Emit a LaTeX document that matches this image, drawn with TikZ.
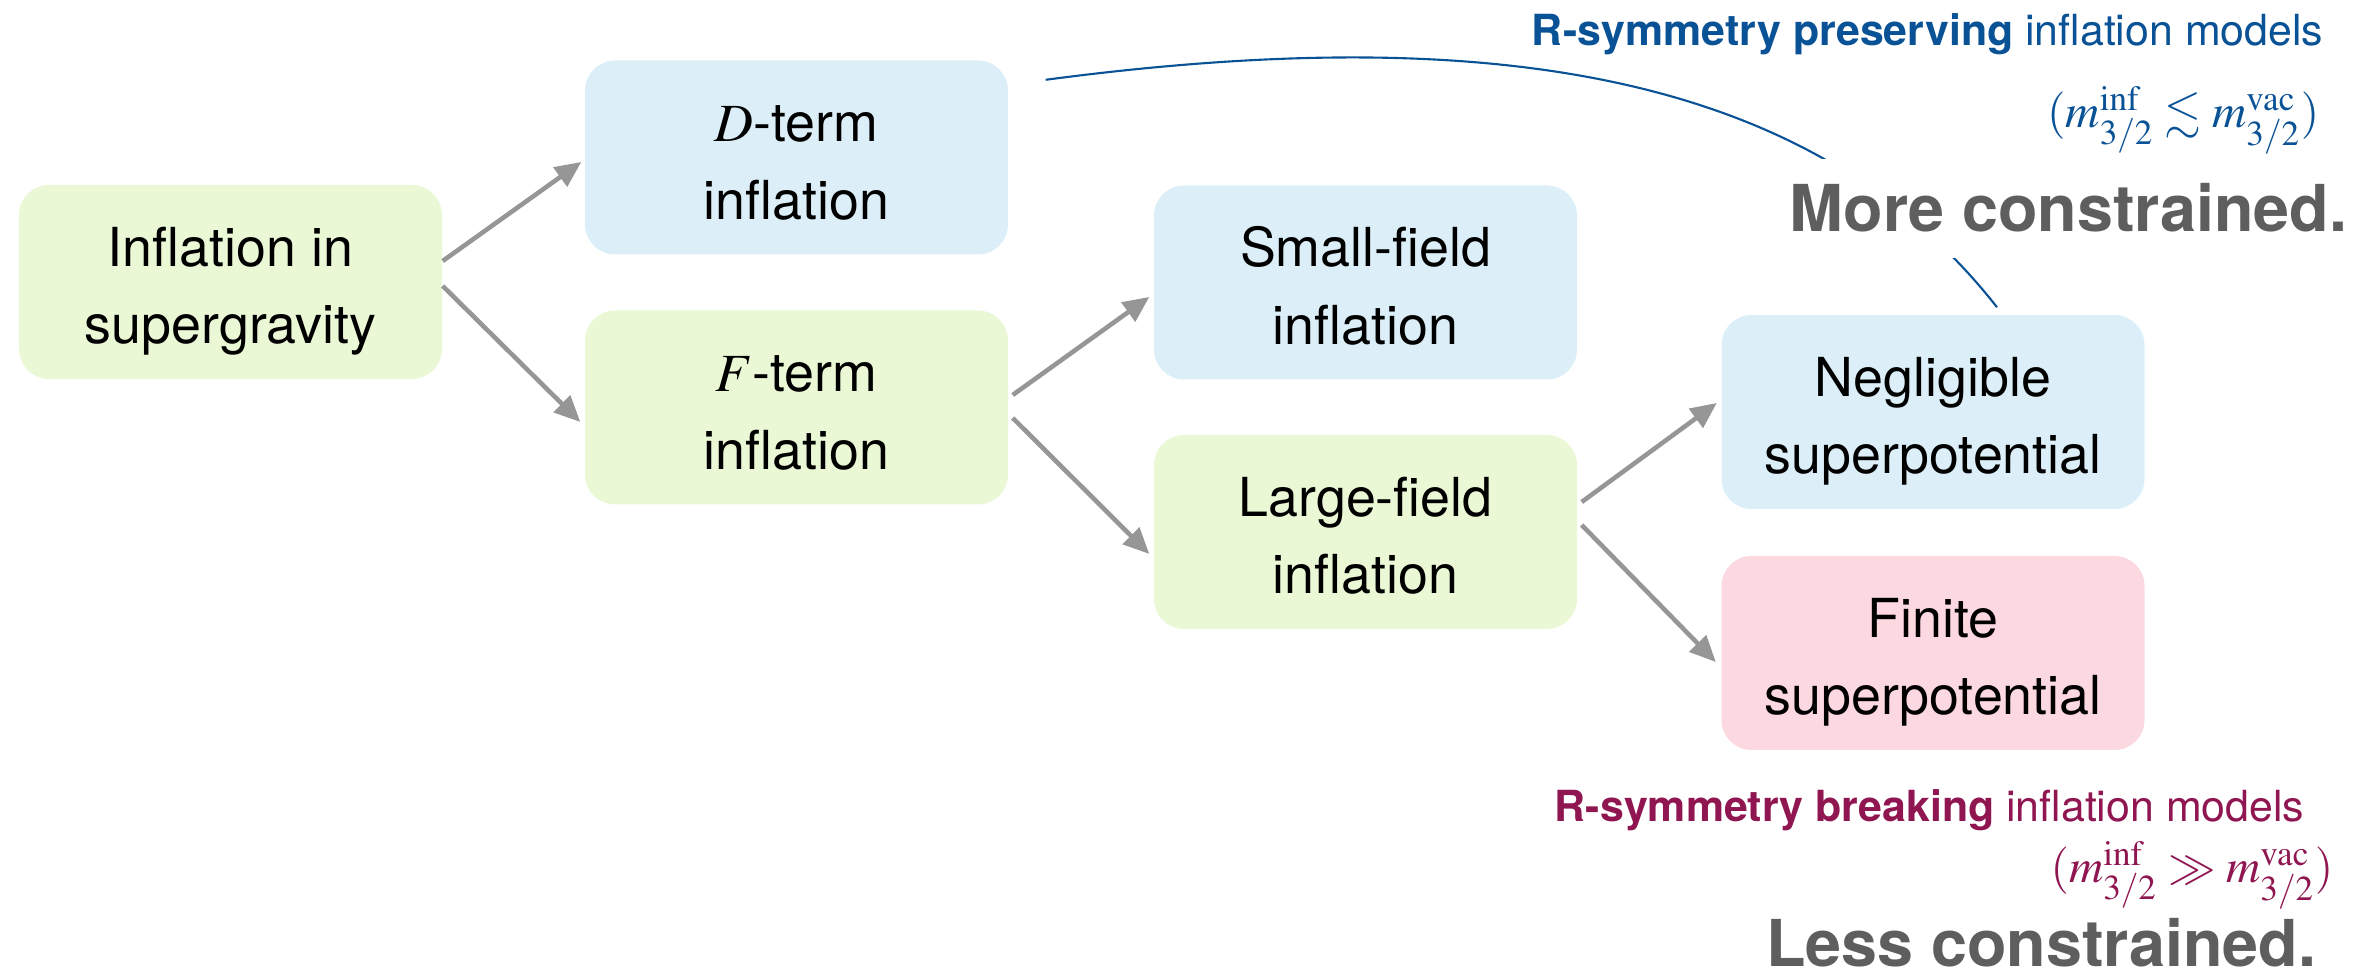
\documentclass[tikz,border=0pt]{standalone}
\usepackage{mathptmx}
\usepackage{amssymb}
\usepackage[no-math]{fontspec}
\setmainfont{TeX Gyre Heros}
\usetikzlibrary{arrows.meta, calc}
\definecolor{boxgreen}{RGB}{234, 248, 214}
\definecolor{boxblue}{RGB}{220, 239, 248}
\definecolor{boxpink}{RGB}{252, 216, 224}
\definecolor{arrowgray}{RGB}{150, 150, 150}
\definecolor{rblue}{RGB}{10, 82, 150}
\definecolor{rred}{RGB}{143, 22, 80}
\definecolor{textgray}{RGB}{94, 94, 94}
% two lines with fixed height/depth, so every box sets its text alike
\newcommand{\boxlines}[2]{\rule{0pt}{0.58cm}#1\\#2\rule[-0.12cm]{0pt}{0.12cm}}

\begin{document}
\begin{tikzpicture}[
    box/.style={rectangle, rounded corners=0.3cm, minimum width=4.23cm, minimum height=1.94cm,
        align=center, font=\fontsize{15.3}{22}\selectfont},
    branch/.style={draw=arrowgray, line width=1.3pt, -{Triangle[length=0.26cm, width=0.23cm]}},
    note/.style={anchor=base east, inner sep=0pt, font=\fontsize{12.2}{14}\selectfont},
    notemath/.style={anchor=base east, inner sep=0pt, font=\fontsize{13.5}{15}\selectfont},
    verdict/.style={anchor=base east, text=textgray, font=\fontsize{18.4}{21}\selectfont\bfseries}
]
    \useasboundingbox (0,0) rectangle (23.75,9.73);

    % Boxes
    \node[box, fill=boxgreen] (sugra)  at (2.305, 6.91) {\boxlines{Inflation in}{supergravity}};
    \node[box, fill=boxblue]  (dterm)  at (7.965, 8.155) {\boxlines{$D$-term}{inflation}};
    \node[box, fill=boxgreen] (fterm)  at (7.965, 5.655) {\boxlines{$F$-term}{inflation}};
    \node[box, fill=boxblue]  (small)  at (13.655, 6.905) {\boxlines{Small-field}{inflation}};
    \node[box, fill=boxgreen] (large)  at (13.655, 4.41) {\boxlines{Large-field}{inflation}};
    \node[box, fill=boxblue]  (negl)   at (19.33, 5.61) {\boxlines{Negligible}{superpotential}};
    \node[box, fill=boxpink]  (finite) at (19.33, 3.2) {\boxlines{Finite}{superpotential}};

    % Branches
    \draw[branch] ($(sugra.east)+(0,0.21)$) -- ($(dterm.west)+(-0.03,-0.045)$);
    \draw[branch] ($(sugra.east)+(0,-0.04)$) -- ($(fterm.west)+(-0.04,-0.145)$);
    \draw[branch] ($(fterm.east)+(0.04,0.125)$) -- ($(small.west)+(-0.04,-0.145)$);
    \draw[branch] ($(fterm.east)+(0.04,-0.105)$) -- ($(large.west)+(-0.04,-0.22)$);
    \draw[branch] ($(large.east)+(0.04,0.30)$) -- ($(negl.west)+(-0.04,0.09)$);
    \draw[branch] ($(large.east)+(0.04,0.07)$) -- ($(finite.west)+(-0.05,-0.09)$);

    % R-symmetry preserving
    \draw[rblue, line width=0.6pt] ($(dterm.north east)+(0.37,-0.2)$)
        .. controls (14.9,9.52) and (18.13,9.01) .. ($(negl.north)+(0.64,0.07)$);
    \node[note, text=rblue] (prestext) at (23.24, 9.27)
        {\textbf{R-symmetry preserving} inflation models};
    \node[notemath, text=rblue] (presmath) at (23.2, 8.45)
        {$(m_{3/2}^{\mathrm{inf}} \lesssim m_{3/2}^{\mathrm{vac}})$};
    \node[verdict, fill=white, inner sep=0.25cm] (more) at (23.73, 7.41) {More constrained.};

    % R-symmetry breaking
    \node[note, text=rred] (breaktext) at (23.05, 1.51)
        {\textbf{R-symmetry breaking} inflation models};
    \node[notemath, text=rred] (breakmath) at (23.34, 0.90)
        {$(m_{3/2}^{\mathrm{inf}} \gg m_{3/2}^{\mathrm{vac}})$};
    \node[verdict, inner sep=0pt] (less) at (23.17, 0.06) {Less constrained.};
\end{tikzpicture}
\end{document}
